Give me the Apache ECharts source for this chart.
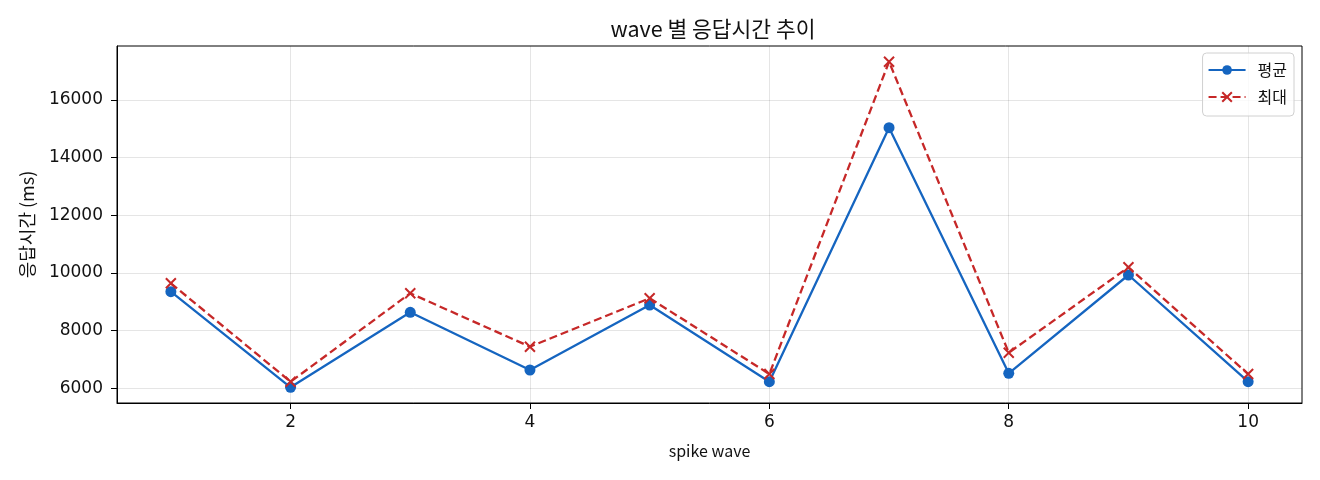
<!DOCTYPE html>
<html><head><meta charset="utf-8">
<script src="https://cdn.jsdelivr.net/npm/echarts@6/dist/echarts.min.js"></script>
<style>html,body{margin:0;padding:0;background:#fff}#c{width:1320px;height:480px}</style>
</head><body><div id="c"></div>
<script>
const waves = [1,2,3,4,5,6,7,8,9,10];
const avgMs = [9351,6035,8636,6635,8889,6228,15039,6520,9930,6228];
const maxMs = [9642,6228,9295,7443,9122,6495,17328,7235,10197,6495];
const xTicks = [2,4,6,8,10];
const yTicks = [6000,8000,10000,12000,14000,16000];
const FONT = '"DejaVu Sans", "Noto Sans CJK KR", sans-serif';
const KFONT = '"Noto Sans CJK KR", "Noto Sans", sans-serif';

const chart = echarts.init(document.getElementById('c'), null, {renderer:'canvas'});
chart.setOption({
  animation:false,
  textStyle:{fontFamily:FONT},
  title:{text:'wave 별 응답시간 추이', left:708, textAlign:'center', top:13,
    textStyle:{fontFamily:KFONT, fontSize:21.5, fontWeight:'normal', color:'#111'}},
  grid:{left:117, right:18, top:46, bottom:77, show:true, borderColor:'#000', borderWidth:1},
  legend:{right:26, top:53, orient:'vertical', itemGap:11, itemWidth:37, itemHeight:12,
    backgroundColor:'rgba(255,255,255,0.8)', borderColor:'#d0d0d0', borderWidth:1, borderRadius:4,
    padding:[9,7,11,5], textStyle:{fontFamily:KFONT, fontSize:16, color:'#111', padding:[0,0,0,7]},
    data:[{name:'평균'},{name:'최대'}]},
  xAxis:{type:'value', min:0.55, max:10.45,
    name:'spike wave', nameLocation:'middle', nameGap:40,
    nameTextStyle:{fontFamily:KFONT, fontSize:16, color:'#111'},
    axisLine:{show:true, lineStyle:{color:'#000'}},
    axisTick:{show:true, length:6, lineStyle:{color:'#000'}, customValues:xTicks},
    axisLabel:{fontFamily:FONT, fontSize:17, color:'#111', margin:11, customValues:xTicks},
    splitLine:{show:true, lineStyle:{color:'rgba(0,0,0,0.1)'}}},
  yAxis:{type:'value', min:5490, max:17873,
    name:'응답시간 (ms)', nameLocation:'middle', nameGap:81,
    nameTextStyle:{fontFamily:KFONT, fontSize:18, color:'#111'},
    axisLine:{show:true, lineStyle:{color:'#000'}},
    axisTick:{show:true, length:6, lineStyle:{color:'#000'}, customValues:yTicks},
    axisLabel:{fontFamily:FONT, fontSize:17, color:'#111', margin:14, customValues:yTicks,
      formatter:v=>String(v)},
    splitLine:{show:true, lineStyle:{color:'rgba(0,0,0,0.1)'}}},
  series:[
    {name:'평균', type:'line', data:waves.map((w,i)=>[w,avgMs[i]]),
     symbol:'circle', symbolSize:11, itemStyle:{color:'#1565C0'},
     lineStyle:{color:'#1565C0', width:2.3}},
    {name:'최대', type:'line', data:waves.map((w,i)=>[w,maxMs[i]]),
     symbol:'path://M0,0L10,10M10,0L0,10', symbolSize:10,
     itemStyle:{color:'none', borderColor:'#C62828', borderWidth:2},
     lineStyle:{color:'#C62828', width:2.3, type:[8,4]}}
  ]
});
</script></body></html>
